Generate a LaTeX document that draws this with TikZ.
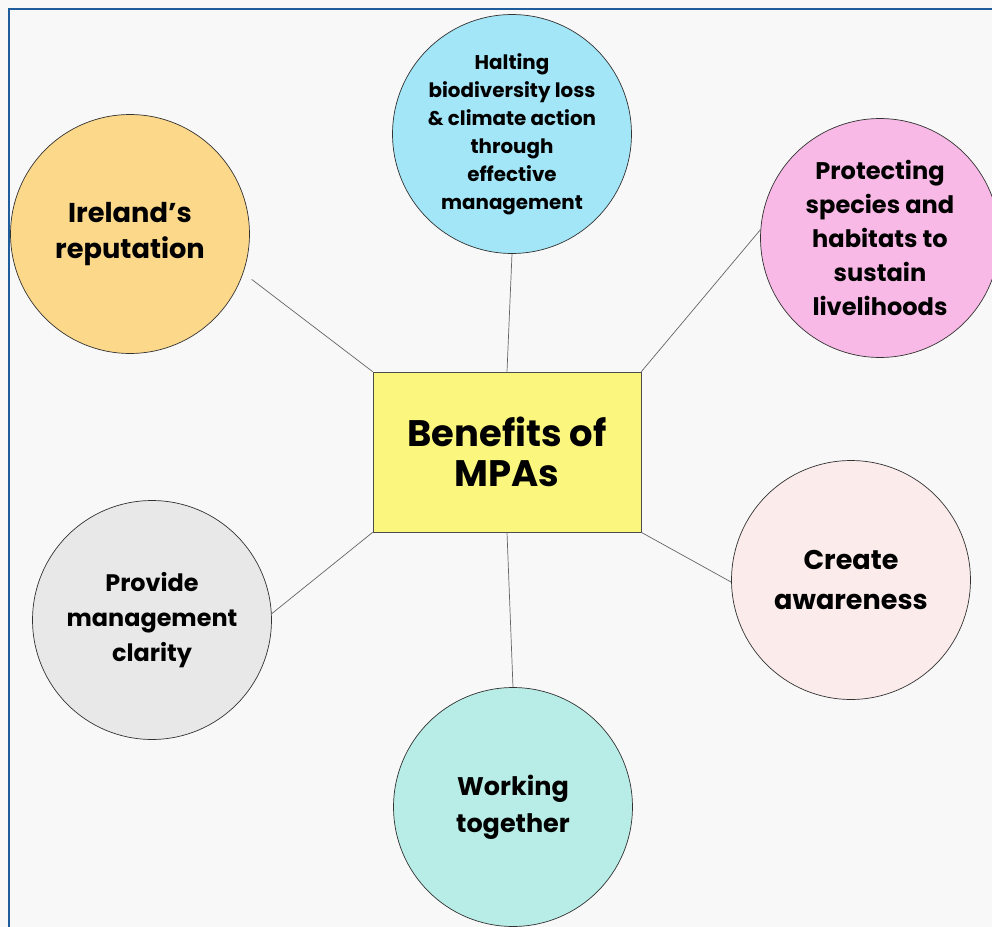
\documentclass[tikz,border=0pt]{standalone}
\usepackage{fontspec}
\setmainfont{Poppins}
\usepackage{xcolor}
\usetikzlibrary{positioning}

\definecolor{pagegray}{HTML}{F8F8F8}
\definecolor{frameblue}{HTML}{1F5C9C}
\definecolor{boxyellow}{HTML}{FBF67E}
\definecolor{irlorange}{HTML}{FCD98A}
\definecolor{haltblue}{HTML}{A3E6F8}
\definecolor{protpink}{HTML}{F8B9E6}
\definecolor{claritygray}{HTML}{E8E8E8}
\definecolor{awarepink}{HTML}{FCEBEB}
\definecolor{workteal}{HTML}{B7EDE6}

\begin{document}
\begin{tikzpicture}[x=0.02cm,y=-0.02cm,
                  hub/.style={rectangle,draw=black!70,fill=boxyellow,thin,
                    minimum width=5.36cm,minimum height=3.2cm,align=center,
                    font=\bfseries\fontsize{21}{22.7}\selectfont},
                  bubble/.style={circle,draw=black!80,thin,inner sep=0pt,
                    minimum size=4.78cm,align=center},
                  spoke/.style={draw=black!60,thin}
                  ]
                  % page and frame
                  \clip (0,0) rectangle (992,927);
                  \useasboundingbox (0,0) rectangle (992,927);
                  \fill[pagegray] (0,0) rectangle (992,927);
                  \draw[frameblue,line width=1.2pt] (9,940) -- (9,9) -- (1000,9);
                  % centre and topics
                  \node[hub] (mpa) at (507,452) {Benefits of\\MPAs};
                  \node[bubble,fill=irlorange,font=\bfseries\fontsize{15.5}{21}\selectfont]
                    (ire) at (130,234) {Ireland\symbol{39}s\\reputation};
                  \node[bubble,fill=haltblue,font=\bfseries\fontsize{11.3}{15.9}\selectfont]
                    (halt) at (512,134) {Halting\\biodiversity loss\\\& climate action\\through\\effective\\management};
                  \node[bubble,fill=protpink,font=\bfseries\fontsize{13.7}{19.3}\selectfont]
                    (prot) at (880,238) {Protecting\\species and\\habitats to\\sustain\\livelihoods};
                  \node[bubble,fill=claritygray,font=\bfseries\fontsize{13.6}{19.8}\selectfont]
                    (clar) at (152,620) {Provide\\management\\clarity};
                  \node[bubble,fill=awarepink,font=\bfseries\fontsize{15.4}{22.7}\selectfont]
                    (aware) at (851,580) {Create\\awareness};
                  \node[bubble,fill=workteal,font=\bfseries\fontsize{14.5}{21}\selectfont]
                    (work) at (513,807) {Working\\together};
                  % spokes
                  \draw[spoke,shorten >=6pt] (mpa.north west) -- (ire.-19);
                  \draw[spoke] (mpa.north) -- (halt.south);
                  \draw[spoke] (mpa.north east) -- (prot.176);
                  \draw[spoke] (mpa.south west) -- (clar.3);
                  \draw[spoke] (mpa.south east) -- (aware.181);
                  \draw[spoke] (mpa.south) -- (work.north);
                \end{tikzpicture}
\end{document}
